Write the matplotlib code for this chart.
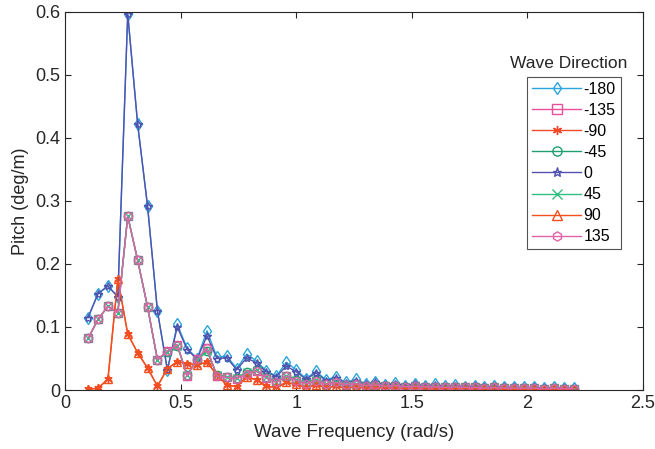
import matplotlib
matplotlib.use("Agg")
import matplotlib.pyplot as plt

plt.rcParams['font.family'] = ['Liberation Sans', 'DejaVu Sans']

# wave frequency (rad/s)
freq = [0.1, 0.1429, 0.1857, 0.2286, 0.2714, 0.3143, 0.3571, 0.4, 0.4429, 0.4857,
        0.5286, 0.5714, 0.6143, 0.6571, 0.7, 0.7429, 0.7857, 0.8286, 0.8714, 0.9143,
        0.9571, 1.0, 1.0429, 1.0857, 1.1286, 1.1714, 1.2143, 1.2571, 1.3, 1.3429,
        1.3857, 1.4286, 1.4714, 1.5143, 1.5571, 1.6, 1.6429, 1.6857, 1.7286, 1.7714,
        1.8143, 1.8571, 1.9, 1.9429, 1.9857, 2.0286, 2.0714, 2.1143, 2.1571, 2.2]

# pitch (deg/m) per wave direction
p_m180 = [0.115, 0.153, 0.165, 0.148, 0.597, 0.422, 0.292, 0.125, 0.032, 0.104,
          0.066, 0.050, 0.094, 0.052, 0.054, 0.034, 0.057, 0.046, 0.030, 0.022,
          0.044, 0.032, 0.018, 0.030, 0.016, 0.021, 0.012, 0.017, 0.010, 0.013,
          0.008, 0.011, 0.007, 0.010, 0.006, 0.009, 0.006, 0.008, 0.005, 0.007,
          0.005, 0.006, 0.004, 0.005, 0.004, 0.004, 0.003, 0.004, 0.003, 0.003]
p_0 = [0.115, 0.153, 0.165, 0.148, 0.597, 0.422, 0.292, 0.125, 0.032, 0.100,
       0.064, 0.049, 0.086, 0.050, 0.051, 0.032, 0.051, 0.043, 0.029, 0.021,
       0.038, 0.029, 0.017, 0.027, 0.015, 0.019, 0.011, 0.015, 0.009, 0.012,
       0.008, 0.010, 0.007, 0.009, 0.006, 0.008, 0.005, 0.007, 0.005, 0.006,
       0.004, 0.005, 0.004, 0.004, 0.003, 0.004, 0.003, 0.003, 0.003, 0.002]
p_m135 = [0.082, 0.112, 0.133, 0.123, 0.276, 0.206, 0.132, 0.048, 0.062, 0.072,
          0.022, 0.050, 0.066, 0.022, 0.020, 0.018, 0.026, 0.030, 0.019, 0.012,
          0.022, 0.015, 0.010, 0.015, 0.009, 0.012, 0.008, 0.010, 0.007, 0.008,
          0.006, 0.007, 0.005, 0.006, 0.005, 0.005, 0.004, 0.005, 0.004, 0.004,
          0.003, 0.004, 0.003, 0.003, 0.003, 0.003, 0.002, 0.003, 0.002, 0.002]
p_m45 = [0.082, 0.112, 0.133, 0.123, 0.276, 0.206, 0.132, 0.048, 0.060, 0.070,
         0.024, 0.048, 0.062, 0.024, 0.021, 0.019, 0.028, 0.031, 0.020, 0.013,
         0.023, 0.016, 0.011, 0.016, 0.010, 0.012, 0.008, 0.010, 0.007, 0.008,
         0.006, 0.007, 0.005, 0.006, 0.005, 0.005, 0.004, 0.005, 0.004, 0.004,
         0.003, 0.004, 0.003, 0.003, 0.003, 0.003, 0.002, 0.003, 0.002, 0.002]
p_m90 = [0.001, 0.003, 0.017, 0.176, 0.089, 0.059, 0.035, 0.006, 0.034, 0.045,
         0.042, 0.040, 0.044, 0.024, 0.008, 0.005, 0.021, 0.016, 0.006, 0.004,
         0.012, 0.009, 0.004, 0.008, 0.004, 0.006, 0.003, 0.005, 0.003, 0.004,
         0.003, 0.003, 0.002, 0.003, 0.002, 0.002, 0.002, 0.002, 0.002, 0.002,
         0.001, 0.002, 0.001, 0.001, 0.001, 0.001, 0.001, 0.001, 0.001, 0.001]

directions = ['-180', '-135', '-90', '-45', '0', '45', '90', '135']
series = [p_m180, p_m135, p_m90, p_m45, p_0, p_m45, p_m90, p_m135]
colors = ['#29a6dc', '#e8509c', '#f2482a', '#1f9e6e', '#5252ae', '#2fbf80', '#f4501e', '#e262a8']
markers = ['d', 's', (6, 2, 0), 'o', '*', 'x', '^', 'h']

fig = plt.figure(figsize=(6.55, 4.49), dpi=100)
ax = fig.add_axes([0.0992, 0.1314, 0.8825, 0.8419])

for d, vals, c, m in zip(directions, series, colors, markers):
    ax.plot(freq, vals, color=c, marker=m, markersize=6, markerfacecolor='none',
            markeredgewidth=1.0, linewidth=1.0, label=d)

ax.set_xlim(0, 2.5)
ax.set_ylim(0, 0.6)
ax.set_xticks([0, 0.5, 1, 1.5, 2, 2.5])
ax.set_xticklabels(['0', '0.5', '1', '1.5', '2', '2.5'])
ax.set_yticks([0, 0.1, 0.2, 0.3, 0.4, 0.5, 0.6])
ax.set_yticklabels(['0', '0.1', '0.2', '0.3', '0.4', '0.5', '0.6'])
ax.tick_params(direction='in', top=True, right=True, length=4, labelsize=13,
               colors='#262626', width=0.8)
for s in ax.spines.values():
    s.set_color('#262626')
    s.set_linewidth(0.8)
ax.set_xlabel('Wave Frequency (rad/s)', fontsize=13.5, color='#262626', labelpad=9)
ax.set_ylabel('Pitch (deg/m)', fontsize=13, color='#262626')

leg = ax.legend(loc='upper left', bbox_to_anchor=(0.8046, 0.8285),
                bbox_transform=fig.transFigure, borderaxespad=0, fontsize=11.5,
                fancybox=False, frameon=True, edgecolor='#262626',
                handlelength=3.1, handletextpad=0.15, labelspacing=0.38,
                borderpad=0.3, markerscale=1.1)
leg.get_frame().set_linewidth(0.8)
fig.text(569 / 655, 1 - 63 / 449, 'Wave Direction', ha='center', va='center',
         fontsize=12.5, color='#262626')

fig.savefig('out.png', dpi=100)
